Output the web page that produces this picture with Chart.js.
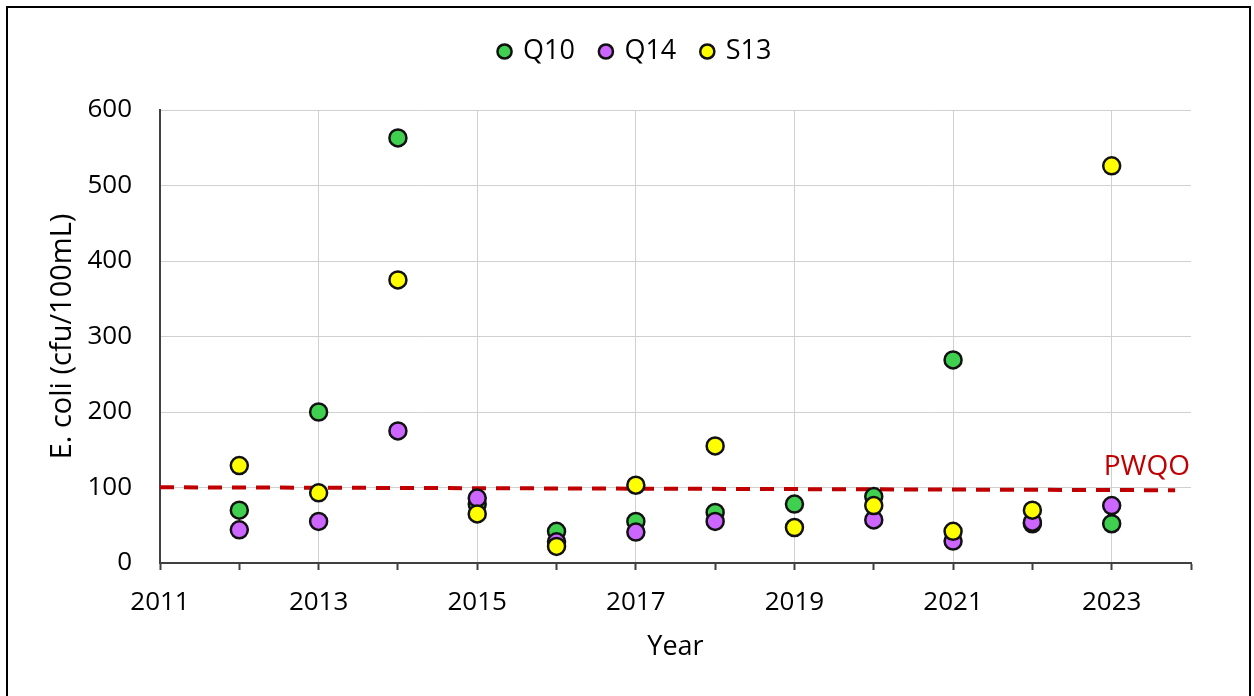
<!DOCTYPE html>
<html>
<head>
<meta charset="utf-8">
<script src="https://cdn.jsdelivr.net/npm/chart.js@4.4.1/dist/chart.umd.min.js"></script>
<style>
    body { margin: 0; background: #fff; overflow: hidden; }
    #box { position: absolute; left: 6px; top: 6px; width: 1241px; height: 700px; border: 2px solid #000; }
    #wrap { position: relative; width: 1241px; height: 688px; }
</style>
</head>
<body>
<div id="box"><div id="wrap"><canvas id="chart"></canvas></div></div>
<script>
// Sampling years and E. coli results per station (cfu/100mL)
const years = [2012, 2013, 2014, 2015, 2016, 2017, 2018, 2019, 2020, 2021, 2022, 2023];
const q10 = [70, 200, 563, 78, 42, 55, 67, 78, 88, 269, 52, 52];
const q14 = [44, 55, 175, 86, 28, 41, 55, null, 57, 29, 54, 76];
const s13 = [129, 93, 375, 65, 22, 103, 155, 47, 76, 42, 70, 526];

// PWQO guideline line (as drawn, slightly sloped)
const pwqoX = [2011, 2023.8];
const pwqoY = [100.3, 96.4];

const FONT = 'Open Sans';

function toPoints(vals) {
    const pts = [];
    years.forEach((yr, i) => {
        if (vals[i] !== null) pts.push({ x: yr, y: vals[i] });
    });
    return pts;
}

function stationSet(label, values, color, order) {
    return {
        type: 'scatter',
        label: label,
        data: toPoints(values),
        backgroundColor: color,
        borderColor: '#111',
        borderWidth: 2.5,
        pointRadius: 8.5,
        pointHoverRadius: 8.5,
        order: order
    };
}

// label for the guideline
const pwqoLabel = {
    id: 'pwqoLabel',
    afterDatasetsDraw(chart) {
        const ctx = chart.ctx;
        const xs = chart.scales.x;
        const ys = chart.scales.y;
        ctx.save();
        ctx.font = '28px "' + FONT + '"';
        ctx.fillStyle = '#c00000';
        ctx.textAlign = 'right';
        ctx.textBaseline = 'middle';
        ctx.fillText('PWQO', xs.getPixelForValue(2024) - 1, ys.getPixelForValue(pwqoY[1]) - 23);
        ctx.restore();
    }
};

new Chart(document.getElementById('chart'), {
    data: {
        datasets: [
            stationSet('Q10', q10, '#40d050', 3),
            stationSet('Q14', q14, '#cc66ff', 2),
            stationSet('S13', s13, '#ffff00', 1),
            {
                type: 'line',
                label: 'PWQO',
                data: pwqoX.map((x, i) => ({ x: x, y: pwqoY[i] })),
                borderColor: '#c00000',
                borderWidth: 4,
                borderDash: [14, 10],
                pointRadius: 0,
                fill: false,
                order: 10
            }
        ]
    },
    options: {
        responsive: true,
        maintainAspectRatio: false,
        animation: false,
        devicePixelRatio: 1,
        layout: { padding: { top: 4, left: 14, right: 0, bottom: 0 } },
        plugins: {
            tooltip: { enabled: false },
            legend: {
                position: 'top',
                labels: {
                    usePointStyle: true,
                    pointStyle: 'circle',
                    boxWidth: 10,
                    boxHeight: 10,
                    padding: 26,
                    color: '#000',
                    font: { family: FONT, size: 27 },
                    filter: item => item.text !== 'PWQO',
                    sort: (a, b) => a.datasetIndex - b.datasetIndex
                }
            }
        },
        scales: {
            x: {
                type: 'linear',
                min: 2011,
                max: 2024,
                afterFit(s) { s.height = 133; },
                border: { color: '#404040', width: 2 },
                grid: {
                    color: c => (c.tick && c.tick.value % 2 === 1 && c.tick.value > 2011) ? '#d0d0d0' : 'rgba(0,0,0,0)',
                    tickColor: '#404040',
                    tickLength: 7,
                    tickWidth: 2
                },
                ticks: {
                    stepSize: 1,
                    autoSkip: false,
                    maxRotation: 0,
                    padding: 17,
                    color: '#000',
                    font: { family: FONT, size: 26 },
                    callback: v => (v % 2 === 1 ? String(v) : '')
                },
                title: {
                    display: true,
                    text: 'Year',
                    color: '#000',
                    font: { family: FONT, size: 27 },
                    padding: { top: 0, bottom: 32 }
                }
            },
            // empty band between legend and plot
            xTop: {
                axis: 'x',
                position: 'top',
                display: true,
                afterFit(s) { s.height = 35; },
                ticks: { display: false },
                grid: { display: false, drawTicks: false },
                border: { display: false }
            },
            y: {
                min: 0,
                max: 600,
                afterFit(s) { s.width = 138; },
                border: { color: '#404040', width: 2 },
                grid: { color: '#d0d0d0', drawTicks: false },
                ticks: {
                    stepSize: 100,
                    padding: 28,
                    color: '#000',
                    font: { family: FONT, size: 26 }
                },
                title: {
                    display: true,
                    text: 'E. coli (cfu/100mL)',
                    color: '#000',
                    font: { family: FONT, size: 29 },
                    padding: { top: 23, bottom: 0 }
                }
            },
            yR: {
                axis: 'y',
                position: 'right',
                display: true,
                afterFit(s) { s.width = 58; },
                ticks: { display: false },
                grid: { display: false, drawTicks: false },
                border: { display: false }
            }
        }
    },
    plugins: [pwqoLabel]
});
</script>
</body>
</html>
